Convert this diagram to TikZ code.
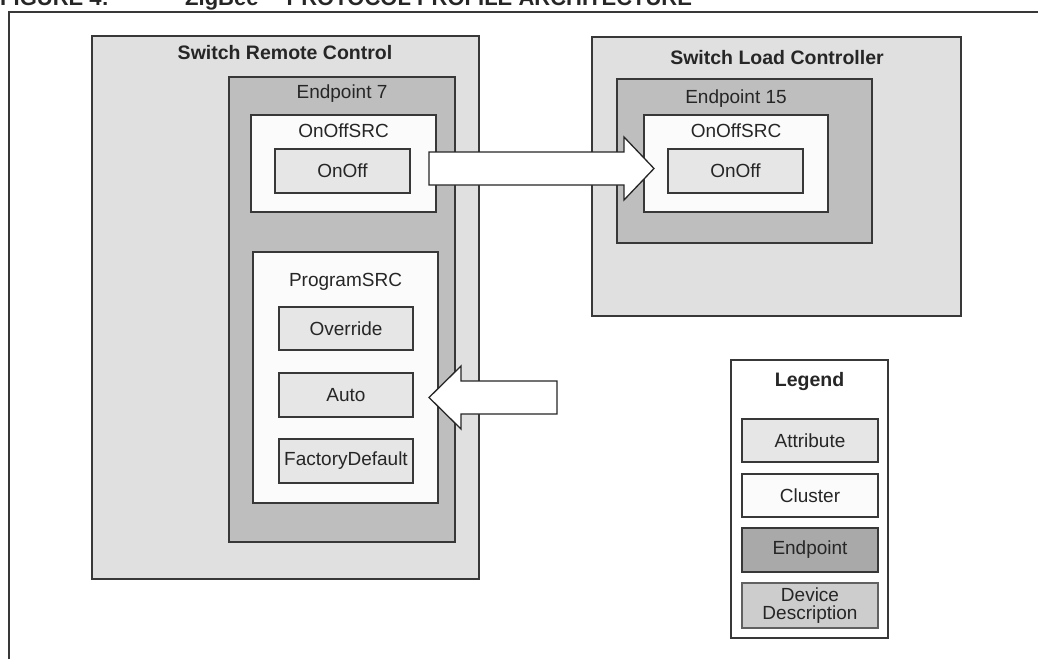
\documentclass[tikz,border=0pt]{standalone}
\usepackage{fontspec}
\setmainfont{Liberation Sans}
\usepackage{tikz}
\usetikzlibrary{fit,calc}

\definecolor{devgray}{HTML}{E0E0E0}
\definecolor{epgray}{HTML}{BEBEBE}
\definecolor{legepgray}{HTML}{A9A9A9}
\definecolor{attgray}{HTML}{E6E6E6}
\definecolor{clwhite}{HTML}{FBFBFB}
\definecolor{legdevgray}{HTML}{CDCDCD}
\definecolor{edgegray}{HTML}{383838}

\begin{document}
\begin{tikzpicture}[x=1pt,y=-1pt,
        font=\fontsize{19}{21}\selectfont,
        every node/.style={text=black!85},
        box/.style={rectangle,draw=edgegray,line width=1.6pt,inner sep=0pt},
        devbox/.style={box,fill=devgray},
        epbox/.style={box,fill=epgray},
        clbox/.style={box,fill=clwhite,line width=1.3pt},
        attbox/.style={box,fill=attgray,line width=1.3pt},
        ttl/.style={font=\fontsize{19.5}{21}\selectfont\bfseries},
        blockarrow/.style={draw=black!85,fill=white,line width=1.3pt,line join=miter}]

        \useasboundingbox (0,0) rectangle (1038,659);

        % Caption of the figure, cut off at the top edge
        \begin{scope}
            \clip (0,0) rectangle (1038,659);
            \node[anchor=base west,inner sep=0pt,font=\fontsize{22}{24}\selectfont\bfseries] (fignum) at (0,5) {FIGURE 4:};
            \node[anchor=base west,inner sep=0pt,font=\fontsize{22}{24}\selectfont\bfseries] (figtitle) at (185,5) {ZigBee\texttrademark\ PROTOCOL PROFILE ARCHITECTURE};
        \end{scope}

        % Frame of the figure
        \draw[edgegray,line width=2pt] (1038,12) -- (9,12) -- (9,659);

        % Device: switch remote control
        \node[devbox,fit={(92,36) (479,579)}] (src) {};
        \node[ttl] (srcname) at (285,53) {Switch Remote Control};
        \node[epbox,fit={(229,77) (455,542)}] (ep7) {};
        \node (ep7name) at (342,94) {Endpoint 7};
        % Cluster OnOffSRC of endpoint 7
        \node[clbox,fit={(251,115) (436,212)}] (onoffsrc7) {};
        \node (onoffsrc7name) at (343.5,131) {OnOffSRC};
        \node[attbox,fit={(275,149) (410,193)},label=center:OnOff] (onoff7) {};
        % Cluster ProgramSRC of endpoint 7
        \node[clbox,fit={(253,252) (438,503)}] (progsrc) {};
        \node (progsrcname) at (345.5,282) {ProgramSRC};
        \node[attbox,fit={(279,307) (413,350)},label=center:Override] (override) {};
        \node[attbox,fit={(279,373) (413,417)},label=center:Auto] (auto) {};
        \node[attbox,fit={(279,439) (413,483)},label=center:FactoryDefault] (factory) {};

        % Device: switch load controller
        \node[devbox,fit={(592,37) (961,316)}] (slc) {};
        \node[ttl] (slcname) at (777,58) {Switch Load Controller};
        \node[epbox,fit={(617,79) (872,243)}] (ep15) {};
        \node (ep15name) at (736,99) {Endpoint 15};
        % Cluster OnOffSRC of endpoint 15
        \node[clbox,fit={(644,115) (828,212)}] (onoffsrc15) {};
        \node (onoffsrc15name) at (736,131) {OnOffSRC};
        \node[attbox,fit={(668,149) (803,193)},label=center:OnOff] (onoff15) {};

        % Legend
        \node[box,fill=white,fit={(731,360) (888,638)}] (legend) {};
        \node[ttl] (legendname) at (809.5,381) {Legend};
        \node[attbox,fit={(742,419) (878,462)},label=center:Attribute] (lgatt) {};
        \node[clbox,fit={(742,474) (878,517)},label=center:Cluster] (lgcl) {};
        \node[epbox,fill=legepgray,fit={(742,528) (878,572)},label=center:Endpoint] (lgep) {};
        \node[box,fill=legdevgray,draw=black!62,line width=2.8pt,fit={(742,583) (878,628)},
              label={[align=center,font=\fontsize{19}{18.5}\selectfont]center:Device\\Description}] (lgdev) {};

        % Block arrow from OnOff to the cluster of endpoint 15
        \coordinate (tail1) at (429,168.5);
        \coordinate (tip1) at (654,168.5);
        \draw[blockarrow] (tail1) ++(0,-16.5) -- ++(195,0) -- ++(0,-15) -- (tip1)
            -- ++(-30,31.5) -- ++(0,-15) -- ++(-195,0) -- cycle;

        % Block arrow into Auto
        \coordinate (tail2) at (557,397.5);
        \coordinate (tip2) at (429,397.5);
        \draw[blockarrow] (tail2) ++(0,-16.5) -- ++(-96,0) -- ++(0,-15) -- (tip2)
            -- ++(32,31.5) -- ++(0,-15) -- ++(96,0) -- cycle;
    \end{tikzpicture}
\end{document}
